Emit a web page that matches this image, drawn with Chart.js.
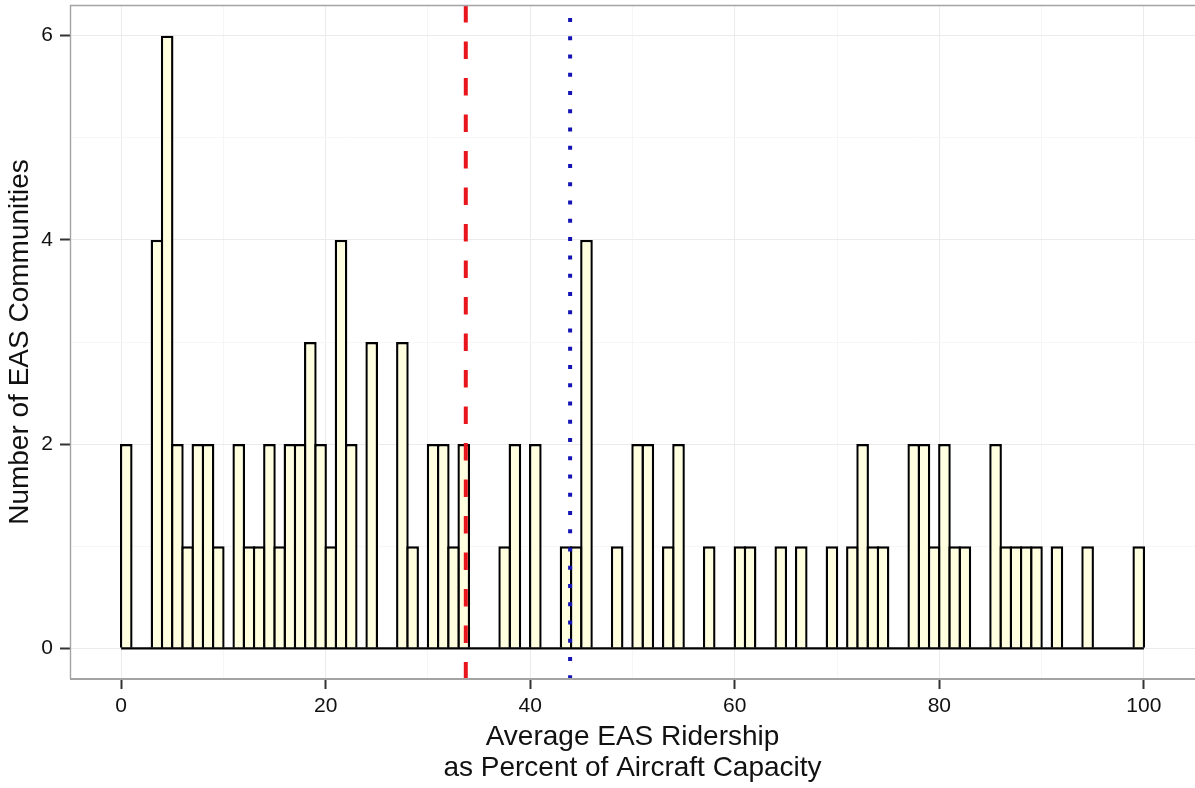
<!DOCTYPE html>
<html>
<head>
<meta charset="utf-8">
<script src="https://cdn.jsdelivr.net/npm/chart.js@4/dist/chart.umd.min.js"></script>
<style>
  html, body { margin: 0; padding: 0; background: #ffffff; }
  #wrap { width: 1195px; height: 788px; position: relative; }
</style>
</head>
<body>
<div id="wrap"><canvas id="chart" width="1195" height="788"></canvas></div>
<script>
// ---- data (histogram, bins of width 1) ----
const binStarts = [
  0, 1, 2, 3, 4, 5, 6, 7, 8, 9,
  10, 11, 12, 13, 14, 15, 16, 17, 18, 19,
  20, 21, 22, 23, 24, 25, 26, 27, 28, 29,
  30, 31, 32, 33, 34, 35, 36, 37, 38, 39,
  40, 41, 42, 43, 44, 45, 46, 47, 48, 49,
  50, 51, 52, 53, 54, 55, 56, 57, 58, 59,
  60, 61, 62, 63, 64, 65, 66, 67, 68, 69,
  70, 71, 72, 73, 74, 75, 76, 77, 78, 79,
  80, 81, 82, 83, 84, 85, 86, 87, 88, 89,
  90, 91, 92, 93, 94, 95, 96, 97, 98, 99
];
const communityCounts = [
  2, 0, 0, 4, 6, 2, 1, 2, 2, 1,
  0, 2, 1, 1, 2, 1, 2, 2, 3, 2,
  1, 4, 2, 0, 3, 0, 0, 3, 1, 0,
  2, 2, 1, 2, 0, 0, 0, 1, 2, 0,
  2, 0, 0, 1, 1, 4, 0, 0, 1, 0,
  2, 2, 0, 1, 2, 0, 0, 1, 0, 0,
  1, 1, 0, 0, 1, 0, 1, 0, 0, 1,
  0, 1, 2, 1, 1, 0, 0, 2, 2, 1,
  2, 1, 1, 0, 0, 2, 1, 1, 1, 1,
  0, 1, 0, 0, 1, 0, 0, 0, 0, 1
];
const redDashedLineX = 33.7;
const blueDottedLineX = 43.9;
const xTickLabels = ['0', '20', '40', '60', '80', '100'];
const yTickLabels = ['0', '2', '4', '6'];
const xTitleLines = ['Average EAS Ridership', 'as Percent of Aircraft Capacity'];
const yTitle = 'Number of EAS Communities';

// ---- derived helpers ----
const binWidth = 1;
const xMin = -5, xMax = 105, yMin = -0.3, yMax = 6.3;
const xMajor = xTickLabels.map(Number);
const yMajor = yTickLabels.map(Number);
const xGridValues = [];
for (let i = 0; i < xMajor.length; i++) {
  xGridValues.push(xMajor[i]);
  if (i < xMajor.length - 1) xGridValues.push((xMajor[i] + xMajor[i + 1]) / 2);
}
const yGridValues = [];
for (let i = 0; i < yMajor.length; i++) {
  yGridValues.push(yMajor[i]);
  if (i < yMajor.length - 1) yGridValues.push((yMajor[i] + yMajor[i + 1]) / 2);
}
const isMajorX = v => xMajor.includes(v);
const isMajorY = v => yMajor.includes(v);

const FONT = "'Liberation Sans', Arial, Helvetica, sans-serif";
Chart.defaults.font.family = FONT;

const panelBorder = {
  id: 'panelBorder',
  afterDraw(chart) {
    const { ctx, chartArea: a } = chart;
    ctx.save();
    ctx.strokeStyle = '#a3a3a3';
    ctx.lineWidth = 1.4;
    ctx.beginPath();
    ctx.moveTo(a.left + 0.5, a.bottom);
    ctx.lineTo(a.left + 0.5, a.top + 0.5);
    ctx.lineTo(a.right, a.top + 0.5);
    ctx.stroke();
    ctx.lineWidth = 2;
    ctx.beginPath();
    ctx.moveTo(a.left, a.bottom);
    ctx.lineTo(a.right, a.bottom);
    ctx.stroke();
    ctx.restore();
  }
};

const pxPerUnit = (1195 - 70) / (xMax - xMin);
const outline = 2.4;

new Chart(document.getElementById('chart'), {
  type: 'bar',
  data: {
    datasets: [
      {
        type: 'bar',
        data: binStarts.map((b, i) => ({ x: b + binWidth / 2, y: communityCounts[i] })),
        backgroundColor: '#FFFFE0',
        borderColor: '#000000',
        borderWidth: outline,
        barPercentage: (pxPerUnit + outline) / pxPerUnit,
        categoryPercentage: 1,
        order: 3
      },
      {
        type: 'line',
        data: [{ x: binStarts[0], y: 0 }, { x: binStarts[binStarts.length - 1] + binWidth, y: 0 }],
        borderColor: '#000000',
        borderWidth: 2.4,
        pointRadius: 0,
        order: 2
      },
      {
        type: 'line',
        data: [{ x: redDashedLineX, y: yMax }, { x: redDashedLineX, y: yMin }],
        borderColor: '#E8161C',
        borderWidth: 4,
        borderDash: [17.5, 19],
        pointRadius: 0,
        order: 1
      },
      {
        type: 'line',
        data: [{ x: blueDottedLineX, y: yMax }, { x: blueDottedLineX, y: yMin }],
        borderColor: '#1414B4',
        borderWidth: 4,
        borderDash: [4, 14.26],
        borderDashOffset: 5.26,
        pointRadius: 0,
        order: 0
      }
    ]
  },
  options: {
    responsive: false,
    animation: false,
    devicePixelRatio: 1,
    layout: { padding: { top: 5, left: 0, right: 0, bottom: 0 } },
    plugins: { legend: { display: false }, tooltip: { enabled: false } },
    scales: {
      x: {
        type: 'linear',
        min: xMin,
        max: xMax,
        offset: false,
        afterBuildTicks: s => { s.ticks = xGridValues.map(v => ({ value: v })); },
        afterFit: s => { s.height = 788 - 679; s.paddingLeft = 0; s.paddingRight = 0; },
        border: { display: false },
        grid: {
          offset: false,
          color: c => (c.tick && isMajorX(c.tick.value)) ? '#EBEBEB' : '#F6F6F6',
          lineWidth: 1,
          tickColor: c => (c.tick && isMajorX(c.tick.value)) ? '#333333' : 'rgba(0,0,0,0)',
          tickLength: 10,
          tickWidth: 2
        },
        ticks: {
          autoSkip: false,
          maxRotation: 0,
          padding: 5,
          color: '#111111',
          font: { size: 21 },
          callback: v => isMajorX(v) ? xTickLabels[xMajor.indexOf(v)] : ''
        },
        title: {
          display: true,
          text: xTitleLines,
          color: '#111111',
          font: { size: 28, lineHeight: 1.12 },
          padding: { top: 0, bottom: 4 }
        }
      },
      y: {
        type: 'linear',
        min: yMin,
        max: yMax,
        afterBuildTicks: s => { s.ticks = yGridValues.map(v => ({ value: v })); },
        afterFit: s => { s.width = 70; s.paddingTop = 0; s.paddingBottom = 0; },
        border: { display: false },
        grid: {
          offset: false,
          color: c => (c.tick && isMajorY(c.tick.value)) ? '#EBEBEB' : '#F6F6F6',
          lineWidth: 1,
          tickColor: c => (c.tick && isMajorY(c.tick.value)) ? '#333333' : 'rgba(0,0,0,0)',
          tickLength: 10,
          tickWidth: 2
        },
        ticks: {
          autoSkip: false,
          padding: 7,
          color: '#111111',
          font: { size: 21 },
          callback: v => isMajorY(v) ? yTickLabels[yMajor.indexOf(v)] : ''
        },
        title: {
          display: true,
          text: yTitle,
          color: '#111111',
          font: { size: 28, lineHeight: 1.2 },
          padding: { top: 3.5, bottom: 0 }
        }
      }
    }
  },
  plugins: [panelBorder]
});
</script>
</body>
</html>
